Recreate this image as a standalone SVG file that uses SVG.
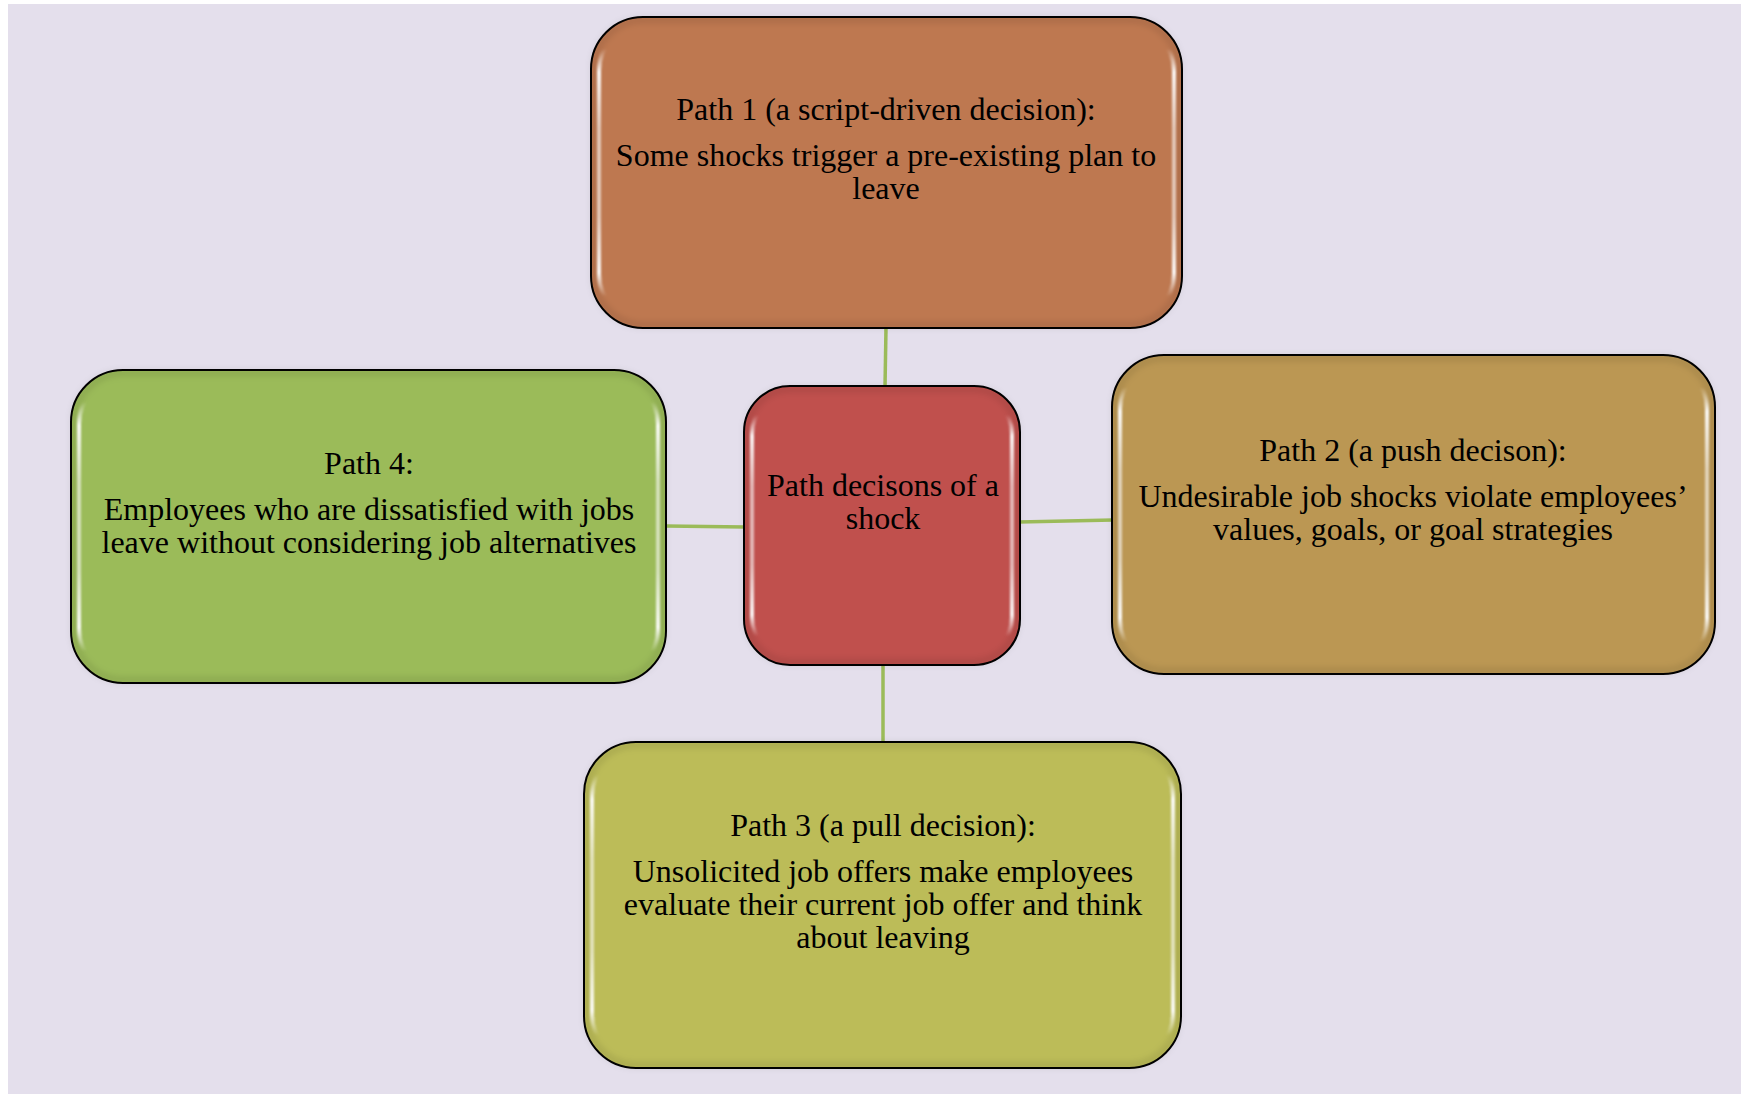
<svg xmlns="http://www.w3.org/2000/svg" width="1741" height="1094" viewBox="0 0 1741 1094">
<defs>
<linearGradient id="shine" x1="0" y1="0" x2="0" y2="1">
<stop offset="0" stop-color="#fff" stop-opacity="0"/>
<stop offset="0.08" stop-color="#fff" stop-opacity="0"/>
<stop offset="0.16" stop-color="#fff" stop-opacity="0.95"/>
<stop offset="0.35" stop-color="#fff" stop-opacity="0.6"/>
<stop offset="0.65" stop-color="#fff" stop-opacity="0.6"/>
<stop offset="0.84" stop-color="#fff" stop-opacity="0.95"/>
<stop offset="0.92" stop-color="#fff" stop-opacity="0"/>
<stop offset="1" stop-color="#fff" stop-opacity="0"/>
</linearGradient>
<filter id="blur" x="-5%" y="-5%" width="110%" height="110%"><feGaussianBlur stdDeviation="1.2"/></filter>
<filter id="blur2" x="-5%" y="-5%" width="110%" height="110%"><feGaussianBlur stdDeviation="3"/></filter>
</defs>
<style>
.box{stroke:#000;stroke-width:2}
.edge{fill:none;stroke:#000;stroke-opacity:0.1;stroke-width:6;filter:url(#blur2)}
.hl{fill:none;stroke:url(#shine);stroke-width:4;filter:url(#blur)}
.t{font-family:"Liberation Serif","Times New Roman",serif;font-size:32px;fill:#000;text-anchor:middle}
.c{fill:none;stroke:#9bbb59;stroke-width:3.5}
</style>
<rect x="8" y="4" width="1733" height="1090" fill="#e4dfec"/>
<g id="connectors">
<line class="c" x1="886" y1="328" x2="885" y2="387"/>
<line class="c" x1="883" y1="664" x2="883" y2="743"/>
<line class="c" x1="666" y1="526" x2="745" y2="527"/>
<line class="c" x1="1019" y1="522" x2="1113" y2="520"/>
</g>
<g id="path1">
<rect class="box" x="591" y="17" width="591" height="311" rx="52" fill="#be7850"/>
<rect class="edge" x="594" y="20" width="585" height="305" rx="49"/>
<rect class="hl" x="599" y="25" width="575" height="295" rx="46"/>
<text class="t" x="886" y="120">Path 1 (a script-driven decision):</text>
<text class="t" x="886" y="166">Some shocks trigger a pre-existing plan to<tspan x="886" y="199">leave</tspan></text>
</g>
<g id="center">
<rect class="box" x="744" y="386" width="276" height="279" rx="46" fill="#c0504d"/>
<rect class="edge" x="747" y="389" width="270" height="273" rx="43"/>
<rect class="hl" x="752" y="394" width="260" height="263" rx="40"/>
<text class="t" x="883" y="496">Path decisons of a<tspan x="883" y="529">shock</tspan></text>
</g>
<g id="path4">
<rect class="box" x="71" y="370" width="595" height="313" rx="52" fill="#9bbb59"/>
<rect class="edge" x="74" y="373" width="589" height="307" rx="49"/>
<rect class="hl" x="79" y="378" width="579" height="297" rx="46"/>
<text class="t" x="369" y="474">Path 4:</text>
<text class="t" x="369" y="520">Employees who are dissatisfied with jobs<tspan x="369" y="553">leave without considering job alternatives</tspan></text>
</g>
<g id="path2">
<rect class="box" x="1112" y="355" width="603" height="319" rx="52" fill="#bb9753"/>
<rect class="edge" x="1115" y="358" width="597" height="313" rx="49"/>
<rect class="hl" x="1120" y="363" width="587" height="303" rx="46"/>
<text class="t" x="1413" y="461">Path 2 (a push decison):</text>
<text class="t" x="1413" y="507">Undesirable job shocks violate employees’<tspan x="1413" y="540">values, goals, or goal strategies</tspan></text>
</g>
<g id="path3">
<rect class="box" x="584" y="742" width="597" height="326" rx="52" fill="#bcbc58"/>
<rect class="edge" x="587" y="745" width="591" height="320" rx="49"/>
<rect class="hl" x="592" y="750" width="581" height="310" rx="46"/>
<text class="t" x="883" y="836">Path 3 (a pull decision):</text>
<text class="t" x="883" y="882">Unsolicited job offers make employees<tspan x="883" y="915">evaluate their current job offer and think</tspan><tspan x="883" y="948">about leaving</tspan></text>
</g>
</svg>
